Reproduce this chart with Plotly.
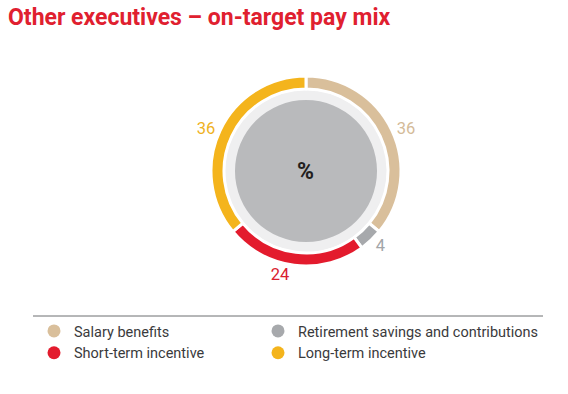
import plotly.graph_objects as go

title = "Other executives \u2013 on-target pay mix"
categories = ["Salary benefits", "Retirement savings and contributions",
              "Short-term incentive", "Long-term incentive"]
values = [36, 4, 24, 36]
colors = ["#d9bf9b", "#a7a9ac", "#e31b2d", "#f4b41c"]
label_colors = ["#d4bb98", "#a3a5a8", "#d9202f", "#efb21e"]
legend_column = ["legend", "legend2", "legend", "legend2"]
center_label = "%"

W, H = 568, 394
cx, cy = 306, 171  # donut centre, px from top
r_out, r_hole, r_light, r_gray = 95, 82, 81, 71

def dom(r):
    return dict(x=[(cx - r) / W, (cx + r) / W],
                y=[(H - cy - r) / H, (H - cy + r) / H])

FONT = "Roboto, sans-serif"

fig = go.Figure()
# light background band
fig.add_trace(go.Pie(values=[1], domain=dom(r_light), marker=dict(colors=["#efeff0"]),
                     textinfo="none", hoverinfo="skip", showlegend=False, sort=False))
# grey inner disc
fig.add_trace(go.Pie(values=[1], domain=dom(r_gray), marker=dict(colors=["#b9babc"]),
                     textinfo="none", hoverinfo="skip", showlegend=False, sort=False))
# data ring
fig.add_trace(go.Pie(
    labels=categories, values=values, domain=dom(r_out), hole=r_hole / r_out,
    sort=False, direction="clockwise", rotation=0,
    marker=dict(colors=colors, line=dict(color="white", width=3)),
    textinfo="value", textposition="outside",
    outsidetextfont=dict(family=FONT, size=16.5, color=label_colors),
    showlegend=False))

# legend entries as circle markers
for c, col, lg in zip(categories, colors, legend_column):
    fig.add_trace(go.Scatter(x=[None], y=[None], mode="markers", name=c, legend=lg,
                             marker=dict(color=col, size=13, symbol="circle")))

fig.add_annotation(text="<b>" + center_label + "</b>", x=cx / W, y=1 - cy / H,
                   xref="paper", yref="paper", showarrow=False,
                   font=dict(family=FONT, size=23, color="#231f20"))

fig.add_shape(type="line", xref="paper", yref="paper",
              x0=33 / W, x1=543 / W, y0=1 - 316 / H, y1=1 - 316 / H,
              line=dict(color="#6d6e71", width=1))

leg_common = dict(orientation="v", xanchor="left", yanchor="top",
                  itemwidth=30, bgcolor="rgba(0,0,0,0)",
                  font=dict(family=FONT, size=14.5, color="#3a3a3c"),
                  tracegroupgap=0, traceorder="normal")

fig.update_layout(
    width=W, height=H, margin=dict(l=0, r=0, t=0, b=0),
    paper_bgcolor="white", plot_bgcolor="white",
    title=dict(text="<b>" + title + "</b>", x=8 / W, xanchor="left", xref="container",
               y=1 - 17 / H, yanchor="middle", yref="container",
               font=dict(family=FONT, size=23, color="#e0202f")),
    xaxis=dict(visible=False), yaxis=dict(visible=False),
    legend=dict(x=34 / W, y=1 - 315 / H, **leg_common),
    legend2=dict(x=258 / W, y=1 - 315 / H, **leg_common),
)

fig.write_html("out.html", config={"displayModeBar": False},
               post_script="document.body.style.margin='0';")
